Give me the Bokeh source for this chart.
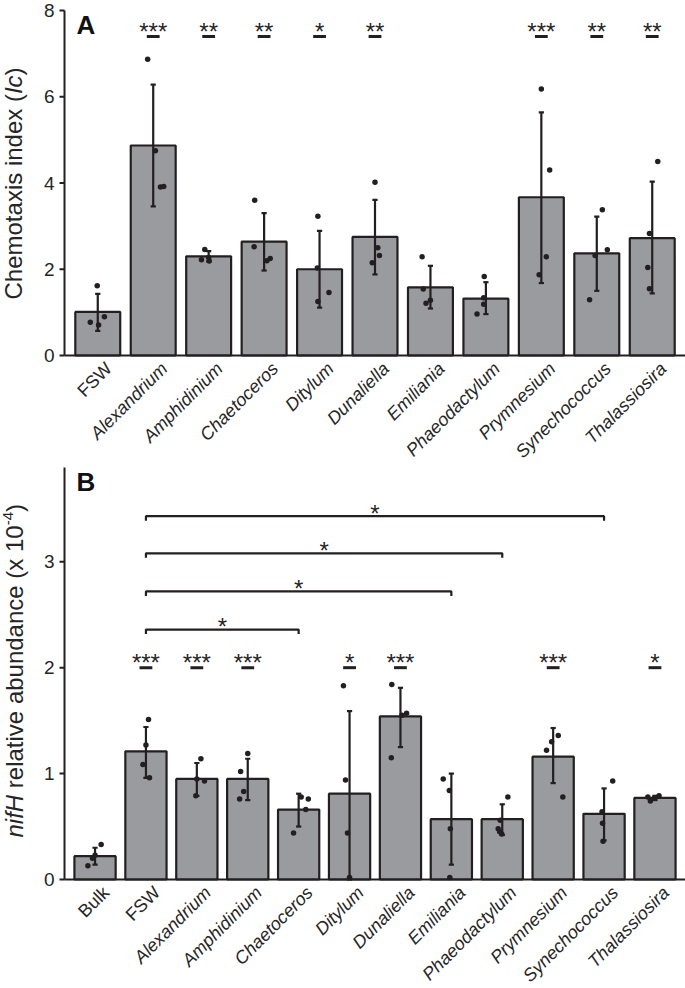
import math
from bokeh.plotting import figure
from bokeh.models import Range1d
from bokeh.layouts import column
from bokeh.embed import file_html
from bokeh.resources import INLINE
from bokeh.core.properties import value

# ---------------- Panel A data: chemotaxis index ----------------
a_cats = ["FSW", "Alexandrium", "Amphidinium", "Chaetoceros", "Ditylum", "Dunaliella",
          "Emiliania", "Phaeodactylum", "Prymnesium", "Synechococcus", "Thalassiosira"]
a_means = [1.01, 4.87, 2.30, 2.64, 2.00, 2.75, 1.58, 1.32, 3.67, 2.37, 2.72]
a_err_lo = [0.57, 3.46, 2.18, 1.97, 1.11, 1.88, 1.09, 0.96, 1.68, 1.50, 1.44]
a_err_hi = [1.43, 6.28, 2.42, 3.30, 2.89, 3.61, 2.08, 1.70, 5.64, 3.22, 4.03]
a_points = [[1.62, 0.77, 0.71, 0.90], [6.87, 4.75, 3.91, 3.92], [2.46, 2.22, 2.27, 2.19],
            [3.60, 2.52, 2.20, 2.25], [3.23, 2.03, 1.25, 1.46], [4.02, 2.50, 2.32, 2.15],
            [2.29, 1.54, 1.28, 1.21], [1.83, 1.34, 1.19, 0.96], [6.18, 4.30, 2.29, 1.87],
            [3.38, 2.45, 2.32, 1.29], [4.50, 2.83, 2.04, 1.55]]
a_jitter = [[-0.01, -0.135, 0.015, 0.12], [-0.10, 0.04, 0.13, 0.19], [-0.07, -0.13, 0.0, 0.01],
            [-0.17, -0.18, 0.05, 0.11], [-0.03, -0.04, -0.03, 0.17], [0.0, 0.05, 0.08, -0.05],
            [-0.15, -0.13, 0.0, -0.08], [-0.03, -0.04, -0.04, -0.16], [0.0, 0.15, 0.09, -0.04],
            [0.10, 0.19, -0.03, -0.13], [0.10, -0.05, -0.08, -0.05]]
a_sig = ["", "***", "**", "**", "*", "**", "", "", "***", "**", "**"]
a_sig_y = 7.40
a_yticks = [0, 2, 4, 6, 8]
a_ymax = 8

# ---------------- Panel B data: nifH relative abundance ----------------
b_cats = ["Bulk", "FSW", "Alexandrium", "Amphidinium", "Chaetoceros", "Ditylum", "Dunaliella",
          "Emiliania", "Phaeodactylum", "Prymnesium", "Synechococcus", "Thalassiosira"]
b_means = [0.22, 1.21, 0.95, 0.95, 0.66, 0.81, 1.54, 0.57, 0.57, 1.16, 0.62, 0.77]
b_err_lo = [0.14, 0.96, 0.79, 0.75, 0.50, 0.0, 1.25, 0.14, 0.42, 0.91, 0.37, 0.75]
b_err_hi = [0.30, 1.44, 1.10, 1.14, 0.81, 1.59, 1.81, 1.00, 0.71, 1.43, 0.86, 0.79]
b_points = [[0.33, 0.23, 0.20, 0.13], [1.51, 1.27, 1.085, 0.96], [1.14, 0.95, 0.93, 0.79],
            [1.19, 1.02, 0.83, 0.76], [0.78, 0.76, 0.66, 0.44], [1.83, 0.94, 0.44, 0.02],
            [1.84, 1.57, 1.55, 1.15], [0.95, 0.84, 0.48, 0.02], [0.78, 0.56, 0.48, 0.45, 0.43],
            [1.36, 1.30, 1.22, 0.78], [0.93, 0.64, 0.53, 0.36], [0.79, 0.78, 0.77, 0.74]]
b_jitter = [[0.12, 0.0, -0.05, -0.14], [0.05, 0.0, -0.06, 0.07], [0.08, 0.0, 0.15, -0.02],
            [0.0, -0.14, -0.08, -0.16], [0.05, 0.19, 0.14, -0.10], [-0.12, -0.08, -0.04, 0.0],
            [-0.17, 0.12, 0.03, -0.18], [-0.16, -0.04, -0.02, -0.03], [0.11, -0.04, -0.08, -0.05, -0.01],
            [0.10, -0.03, -0.13, 0.19], [0.17, -0.04, -0.03, -0.02], [0.08, -0.14, -0.01, -0.09]]
b_sig = ["", "***", "***", "***", "", "*", "***", "", "", "***", "", "*"]
b_sig_y = 2.0
b_brackets_from = [1, 1, 1, 1]
b_brackets_to = [4, 7, 8, 10]
b_brackets_y = [2.36, 2.72, 3.08, 3.43]
b_brackets_lab = ["*", "*", "*", "*"]
b_yticks = [0, 1, 2, 3]
b_ymax = 3.89

FONT = "Liberation Sans"
INK = "#231f20"
TXT = "#262626"
BAR = "#9a9b9f"
UPRIGHT = ("FSW", "Bulk")
WIDTH = 685
AXIS_PX = 64   # pixel column of the y axis

# Arial / Liberation Sans advance widths (per 1000 em) for measuring label pieces
ADV = {' ': 278, '(': 333, ')': 333, '-': 333, '0': 556, '1': 556, '4': 556,
       'A': 667, 'C': 722, 'H': 722, 'I': 278,
       'a': 556, 'b': 556, 'c': 500, 'd': 556, 'e': 556, 'f': 278, 'h': 556, 'i': 222,
       'l': 222, 'm': 833, 'n': 556, 'o': 556, 'r': 333, 's': 500, 't': 278, 'u': 556,
       'v': 500, 'x': 500}


def tw(s, fs):
    return sum(ADV.get(ch, 556) for ch in s) * fs / 1000.0


class Panel:
    def __init__(self, n, ymax, height, y0_px, ytop_px):
        self.n = n
        self.xa = 0.4                      # data x of y axis
        self.xe = n + 0.6
        self.ppx = (WIDTH - AXIS_PX) / (self.xe - self.xa)
        self.ppy = (y0_px - ytop_px) / ymax
        x_start = self.xa - AXIS_PX / self.ppx
        y_start = -(height - y0_px) / self.ppy
        y_end = ymax + ytop_px / self.ppy
        self.ymax = ymax
        self.p = figure(width=WIDTH, height=height, output_backend="svg", toolbar_location=None,
                        x_range=Range1d(x_start, x_start + WIDTH / self.ppx),
                        y_range=Range1d(y_start, y_end),
                        min_border=0, min_border_left=0, min_border_right=0,
                        min_border_top=0, min_border_bottom=0)
        p = self.p
        p.axis.visible = False
        p.grid.visible = False
        p.outline_line_color = None
        p.background_fill_color = "white"
        p.border_fill_color = "white"

    def dx(self, px):
        return px / self.ppx

    def dy(self, px):
        return px / self.ppy


def build(cats, means, lo, hi, pts, jit, sig, sig_y, yticks, ymax, height, y0_px, ytop_px, letter):
    P = Panel(len(cats), ymax, height, y0_px, ytop_px)
    p = P.p
    xs = list(range(1, len(cats) + 1))

    # bars
    p.vbar(x=xs, top=means, width=0.81, bottom=0, fill_color=BAR, line_color=INK, line_width=2.2)

    # error bars
    p.segment(x0=xs, y0=lo, x1=xs, y1=hi, line_color=INK, line_width=2.2)
    cw = P.dx(2.6)
    for yy in (hi, lo):
        p.segment(x0=[x - cw for x in xs], y0=yy, x1=[x + cw for x in xs], y1=yy,
                  line_color=INK, line_width=2.2)

    # replicate points
    px, py = [], []
    for i, (vals, js) in enumerate(zip(pts, jit)):
        for v, j in zip(vals, js):
            px.append(xs[i] + j)
            py.append(v)
    p.scatter(px, py, size=5.5, color=INK, line_color=None)

    # significance vs control
    sx = [xs[i] for i, s in enumerate(sig) if s]
    ss = [s for s in sig if s]
    hw = P.dx(6.4)
    p.segment(x0=[x - hw for x in sx], y0=[sig_y] * len(sx), x1=[x + hw for x in sx],
              y1=[sig_y] * len(sx), line_color=INK, line_width=3)
    p.text(x=sx, y=[sig_y] * len(sx), text=ss, text_align="center", text_baseline="alphabetic",
           y_offset=-5, text_font=value(FONT), text_font_size="24px", text_color=TXT)

    # axes: lines, ticks, tick labels
    p.segment(x0=[P.xa], y0=[0], x1=[P.xa], y1=[ymax], line_color=INK, line_width=2)
    p.segment(x0=[P.xa], y0=[0], x1=[P.xe + 1], y1=[0], line_color=INK, line_width=2)
    p.segment(x0=[P.xa - P.dx(5)] * len(yticks), y0=yticks, x1=[P.xa] * len(yticks), y1=yticks,
              line_color=INK, line_width=2)
    p.text(x=[P.xa - P.dx(10)] * len(yticks), y=yticks, text=[str(t) for t in yticks],
           text_align="right", text_baseline="middle", text_font=value(FONT),
           text_font_size="19px", text_color=TXT)

    # rotated category labels (species italic, controls upright)
    ax = [x + P.dx(4) for x in xs]
    ay = -P.dy(3)
    for style in ("normal", "italic"):
        sel = [i for i, c in enumerate(cats) if (c in UPRIGHT) == (style == "normal")]
        p.text(x=[ax[i] for i in sel], y=[ay] * len(sel),
               text=[cats[i] for i in sel], angle=math.pi / 4, text_align="right",
               text_baseline="top", text_font=value(FONT), text_font_size="18px",
               text_font_style=style, text_color=TXT)

    # panel letter
    p.text(x=[P.xa + P.dx(12)], y=[ymax - P.dy(14)], text=[letter], text_align="left",
           text_baseline="alphabetic", text_font=value(FONT), text_font_size="26px",
           text_font_style="bold", text_color="#111111")
    return P


def add_ylabel(P, pieces, sx0, sy0):
    """sx0: px right of the y axis (negative = left); sy0: px above y = 0."""
    pos = sy0
    for text, style, size, shift, gap in pieces:
        pos += gap
        P.p.text(x=[P.xa + P.dx(sx0 - shift)], y=[P.dy(pos)], text=[text], angle=math.pi / 2,
                 text_align="left", text_baseline="alphabetic", text_font=value(FONT),
                 text_font_size=f"{size}px", text_font_style=style, text_color=TXT)
        pos += tw(text, size)


fs = 24
# ---------------- Panel A ----------------
A = build(a_cats, a_means, a_err_lo, a_err_hi, a_points, a_jitter, a_sig, a_sig_y,
          a_yticks, a_ymax, 464, 355, 10, "A")
add_ylabel(A, [("Chemotaxis index (", "normal", fs, 0, 0),
               ("Ic", "italic", fs, 0, 0),
               (")", "normal", fs, 0, 0)], -51, 56)

# ---------------- Panel B ----------------
B = build(b_cats, b_means, b_err_lo, b_err_hi, b_points, b_jitter, b_sig, b_sig_y,
          b_yticks, b_ymax, 524, 415, 3, "B")
for i0, i1, yb, lab in zip(b_brackets_from, b_brackets_to, b_brackets_y, b_brackets_lab):
    x0, x1 = i0 + 1, i1 + 1
    tick = B.dy(4.5)
    B.p.line(x=[x0, x0, x1, x1], y=[yb - tick, yb, yb, yb - tick], line_color=INK, line_width=2.2)
    B.p.text(x=[(x0 + x1) / 2], y=[yb], text=[lab], text_align="center",
             text_baseline="alphabetic", y_offset=-3, text_font=value(FONT),
             text_font_size="24px", text_color=TXT)

add_ylabel(B, [("nifH", "italic", fs, 0, 0),
               ("relative abundance (x 10", "normal", fs, 0, tw(" ", fs)),
               ("-4", "normal", 15, 7, 0),
               (")", "normal", fs, 0, 0)], -50, 42)

layout = column(A.p, B.p, spacing=0)
open("out.html", "w").write(file_html(layout, INLINE))
